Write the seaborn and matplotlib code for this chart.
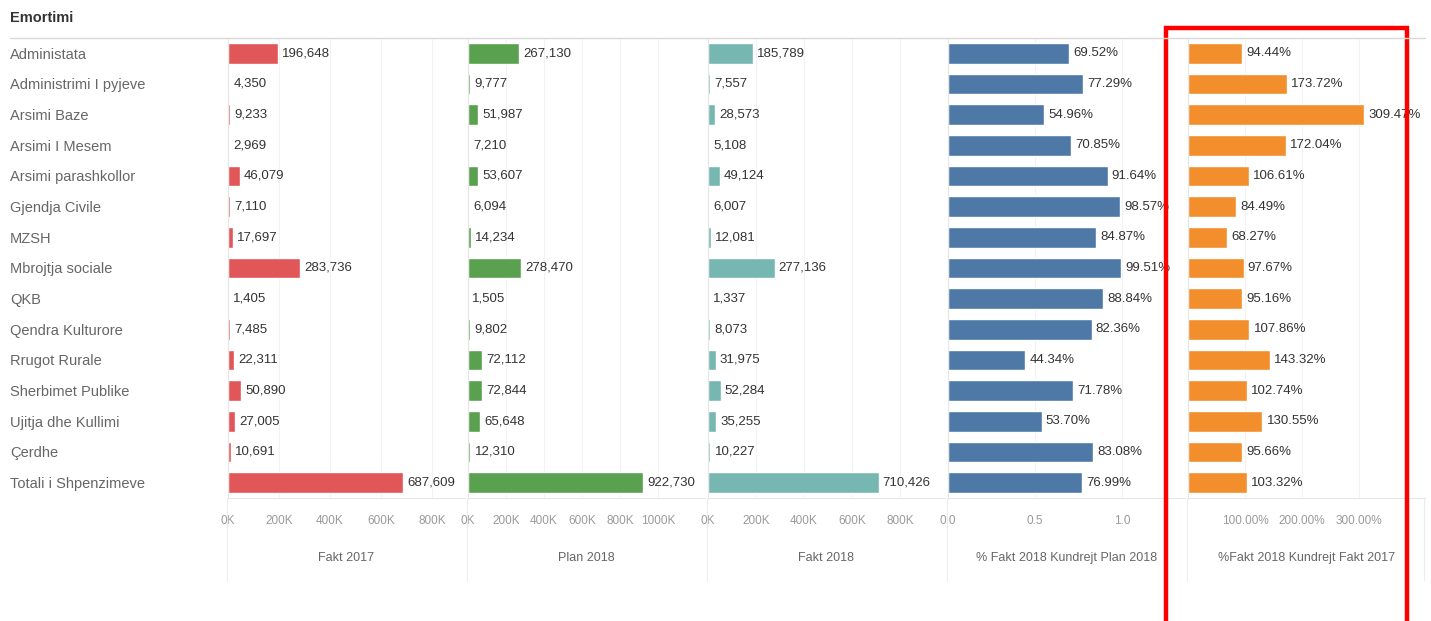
import numpy as np
import pandas as pd
import matplotlib
matplotlib.use("Agg")
import matplotlib.pyplot as plt
from matplotlib.patches import Rectangle
from matplotlib.ticker import FuncFormatter
import seaborn as sns

######################
## Data
######################

emortimi = ["Administata", "Administrimi I pyjeve", "Arsimi Baze", "Arsimi I Mesem",
            "Arsimi parashkollor", "Gjendja Civile", "MZSH", "Mbrojtja sociale", "QKB",
            "Qendra Kulturore", "Rrugot Rurale", "Sherbimet Publike", "Ujitja dhe Kullimi",
            "Çerdhe", "Totali i Shpenzimeve"]

fakt_2017 = [196648, 4350, 9233, 2969, 46079, 7110, 17697, 283736, 1405, 7485,
             22311, 50890, 27005, 10691, 687609]
plan_2018 = [267130, 9777, 51987, 7210, 53607, 6094, 14234, 278470, 1505, 9802,
             72112, 72844, 65648, 12310, 922730]
fakt_2018 = [185789, 7557, 28573, 5108, 49124, 6007, 12081, 277136, 1337, 8073,
             31975, 52284, 35255, 10227, 710426]
pct_vs_plan = [0.6952, 0.7729, 0.5496, 0.7085, 0.9164, 0.9857, 0.8487, 0.9951, 0.8884,
               0.8236, 0.4434, 0.7178, 0.5370, 0.8308, 0.7699]
pct_vs_2017 = [0.9444, 1.7372, 3.0947, 1.7204, 1.0661, 0.8449, 0.6827, 0.9767, 0.9516,
               1.0786, 1.4332, 1.0274, 1.3055, 0.9566, 1.0332]

df = pd.DataFrame({
    "Emortimi": emortimi,
    "Fakt 2017": fakt_2017,
    "Plan 2018": plan_2018,
    "Fakt 2018": fakt_2018,
    "% Fakt 2018 Kundrejt Plan 2018": pct_vs_plan,
    "%Fakt 2018 Kundrejt Fakt 2017": pct_vs_2017,
})

######################
## Style
######################

sns.set_style("white")
plt.rcParams["font.family"] = ["Liberation Sans", "DejaVu Sans"]

W, H = 1431, 621
fig = plt.figure(figsize=(W / 100, H / 100), dpi=100)

def px_box(x0, y0, x1, y1):
    # pixel box (top-left origin) -> figure fraction rect
    return [x0 / W, 1 - y1 / H, (x1 - x0) / W, (y1 - y0) / H]

k_fmt = FuncFormatter(lambda v, p: f"{v / 1000:.0f}K")
panels = [
    ("Fakt 2017", "#E15759", 930000, [0, 200000, 400000, 600000, 800000], k_fmt,
     lambda v: f"{v:,.0f}"),
    ("Plan 2018", "#59A14F", 1247000, [0, 200000, 400000, 600000, 800000, 1000000], k_fmt,
     lambda v: f"{v:,.0f}"),
    ("Fakt 2018", "#76B7B2", 987000, [0, 200000, 400000, 600000, 800000], k_fmt,
     lambda v: f"{v:,.0f}"),
    ("% Fakt 2018 Kundrejt Plan 2018", "#4E79A7", 1.36, [0.0, 0.5, 1.0],
     FuncFormatter(lambda v, p: f"{v:.1f}"), lambda v: f"{v * 100:.2f}%"),
    ("%Fakt 2018 Kundrejt Fakt 2017", "#F28E2B", 4.16, [1, 2, 3],
     FuncFormatter(lambda v, p: f"{v * 100:.2f}%"), lambda v: f"{v * 100:.2f}%"),
]

top, bottom = 38, 498
lefts = [228, 468, 708, 948, 1188]
pw = 237

for i, (col, color, xmax, ticks, fmt, lab) in enumerate(panels):
    ax = fig.add_axes(px_box(lefts[i], top, lefts[i] + pw, bottom))
    sns.barplot(data=df, x=col, y="Emortimi", orient="h", color=color,
                width=0.68, saturation=1, ax=ax)
    ax.set_xlim(0, xmax)
    ax.set_ylim(len(emortimi) - 0.5, -0.5)
    ax.set_xticks(ticks)
    ax.xaxis.set_major_formatter(fmt)
    ax.tick_params(axis="x", length=0, pad=12, labelsize=8.5, labelcolor="#9a9a9a")
    ax.set_xlabel(col, fontsize=9, color="#666666", labelpad=18)
    ax.grid(axis="x", color="#f2f2f2", linewidth=0.8)
    ax.set_axisbelow(True)
    for s in ["top", "right"]:
        ax.spines[s].set_visible(False)
    ax.spines["left"].set_color("#e6e6e6")
    ax.spines["bottom"].set_color("#e6e6e6")
    ax.bar_label(ax.containers[0], labels=[lab(v) for v in df[col]], padding=3,
                 fontsize=9.5, color="#333333")
    ax.set_ylabel("")
    if i == 0:
        ax.tick_params(axis="y", length=0, pad=(lefts[0] - 10) * 0.72,
                       labelsize=10.5, labelcolor="#666666")
        for t in ax.get_yticklabels():
            t.set_ha("left")
    else:
        ax.set_yticks([])

# header and frame lines
fig.text(10 / W, 1 - 18 / H, "Emortimi", fontsize=10.5, fontweight="bold",
         color="#333333", va="center", ha="left")
fig.add_artist(plt.Line2D([10 / W, 1425 / W], [1 - top / H, 1 - top / H],
                          color="#d9d9d9", linewidth=1))
for x in lefts + [lefts[-1] + pw]:
    fig.add_artist(plt.Line2D([(x - 1) / W] * 2, [1 - bottom / H, 1 - 580 / H],
                              color="#ececec", linewidth=0.8))

# red highlight box around the last panel
fig.add_artist(Rectangle((1166 / W, 1 - 640 / H), 241 / W, 612 / H, fill=False,
                         edgecolor="#ff0000", linewidth=3.2))

fig.savefig("out.png", dpi=100)
